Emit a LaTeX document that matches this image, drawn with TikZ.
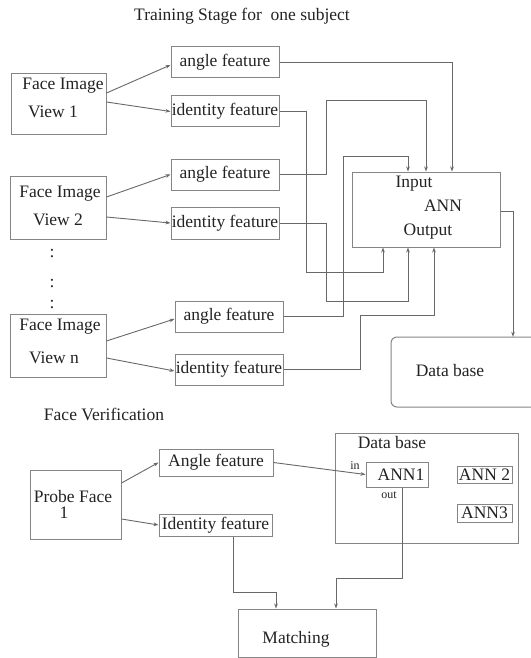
\documentclass[tikz,border=0pt]{standalone}
\usepackage{fontspec}
\setmainfont{Liberation Serif}
\usetikzlibrary{arrows.meta}
\definecolor{lncol}{HTML}{686868}
\definecolor{bxcol}{HTML}{858585}
\definecolor{txcol}{HTML}{232323}
\tikzset{
  txt/.style={text=txcol, font=\fontsize{17.5}{20}\selectfont, inner sep=0pt},
  smalltxt/.style={text=txcol, font=\fontsize{12}{14}\selectfont, inner sep=0pt},
  box/.style={draw=bxcol, line width=1pt, rectangle, inner sep=0pt, text=txcol,
              font=\fontsize{17.5}{20}\selectfont},
  conn/.style={draw=lncol, line width=0.9pt, -{Stealth[length=5pt,width=3.6pt]}},
}
\begin{document}
\begin{tikzpicture}[x=1pt,y=-1pt]
\useasboundingbox[fill=white] (0,0) rectangle (530,658);

% ---------- Training stage ----------
\node[txt] (title) at (242,16) {Training Stage for\ \ one subject};

\node[box, minimum width=95pt, minimum height=60pt] (f1) at (58.5,104) {};
\node[txt] (f1a) at (63,86) {Face Image};
\node[txt] (f1b) at (53,112) {View 1};
\node[box, minimum width=108pt, minimum height=31pt] (a1) at (225,62.5) {angle feature};
\node[box, minimum width=108pt, minimum height=31pt] (i1) at (225,111.5) {identity feature};

\node[box, minimum width=96pt, minimum height=63pt] (f2) at (58,207.5) {};
\node[txt] (f2a) at (60,194) {Face Image};
\node[txt] (f2b) at (58,220) {View 2};
\node[box, minimum width=108pt, minimum height=31pt] (a2) at (225,174.5) {angle feature};
\node[box, minimum width=108pt, minimum height=32pt] (i2) at (225,223) {identity feature};

\node[txt] (c1) at (52,254) {:};
\node[txt] (c2) at (52,284) {:};
\node[txt] (c3) at (52,305) {:};

\node[box, minimum width=96pt, minimum height=63pt] (fn) at (58,345.5) {};
\node[txt] (fna) at (60,327) {Face Image};
\node[txt] (fnb) at (54,358) {View n};
\node[box, minimum width=108pt, minimum height=31pt] (a3) at (229,316.5) {angle feature};
\node[box, minimum width=108pt, minimum height=31pt] (i3) at (229,369.5) {identity feature};

\node[box, minimum width=148pt, minimum height=75pt] (ann) at (426,209.5) {};
\node[txt] (anni) at (414,184) {Input};
\node[txt] (annm) at (443,206) {ANN};
\node[txt] (anno) at (428,232) {Output};

\node[minimum width=139pt, minimum height=70pt, inner sep=0pt] (db1) at (460.5,372) {};
\draw[draw=bxcol, line width=1pt, rounded corners=6pt] (531,337) -- (391,337) -- (391,407) -- (531,407);
\node[txt] (db1t) at (450,371) {Data base};

% training connectors
\draw[conn] ([yshift=11pt]f1.east) -- ([yshift=-2.5pt]a1.west);
\draw[conn] ([yshift=2pt]f1.east) -- (i1.west);
\draw[conn] ([yshift=10.5pt]f2.east) -- (a2.west);
\draw[conn] ([yshift=-9.5pt]f2.east) -- (i2.west);
\draw[conn] ([yshift=4.5pt]fn.east) -- ([yshift=-2.5pt]a3.west);
\draw[conn] ([yshift=-12.5pt]fn.east) -- ([yshift=-1.5pt]i3.west);

\draw[conn] (a1.east) -| ([xshift=26pt]ann.north);
\draw[conn] (i1.east) -| (306,272) -| ([xshift=-43pt]ann.south);
\draw[conn] (a2.east) -| (326,100) -| (ann.north);
\draw[conn] (i2.east) -| (326,301) -| ([xshift=-18pt]ann.south);
\draw[conn] (a3.east) -| (343,156) -| ([xshift=-18pt]ann.north);
\draw[conn] (i3.east) -| (360,315) -| ([xshift=8pt]ann.south);
\draw[conn] ([yshift=-1.5pt]ann.east) -| ([xshift=52.5pt]db1.north);

% ---------- Face verification ----------
\node[txt] (fvt) at (104,414) {Face Verification};

\node[box, minimum width=91pt, minimum height=69pt] (probe) at (75.5,504.5) {};
\node[txt] (pr1) at (73,497) {Probe Face};
\node[txt] (pr2) at (64,513) {1};
\node[box, minimum width=114pt, minimum height=27pt] (ang) at (216,462.5) {Angle feature};
\node[box, minimum width=113pt, minimum height=22pt] (idf) at (215.5,525) {Identity feature};

\node[box, minimum width=183pt, minimum height=110pt] (db2) at (426.5,488) {};
\node[txt] (db2t) at (392,443) {Data base};
\node[box, minimum width=62pt, minimum height=25pt] (ann1) at (397,474.5) {\hspace*{8pt}ANN1};
\node[box, minimum width=55pt, minimum height=17pt] (ann2) at (484.5,474.5) {ANN 2};
\node[box, minimum width=55pt, minimum height=18pt] (ann3) at (484.5,513) {ANN3};
\node[smalltxt] (inl) at (355,466) {in};
\node[smalltxt] (outl) at (389,495) {out};

\node[box, minimum width=138pt, minimum height=48.5pt] (match) at (307,633.25) {};
\node[txt] (matcht) at (296,639) {Matching};

\draw[conn] ([yshift=21.5pt]probe.east) -- (ang.west);
\draw[conn] ([yshift=-14.5pt]probe.east) -- (idf.west);
\draw[conn] (ang.east) -- (ann1.west);
\draw[conn] ([xshift=17.5pt]idf.south) -- (233,592) -| ([xshift=-31pt]match.north);
\draw[conn] ([xshift=5pt]ann1.south) -- (402,578) -| ([xshift=29pt]match.north);
\end{tikzpicture}
\end{document}
